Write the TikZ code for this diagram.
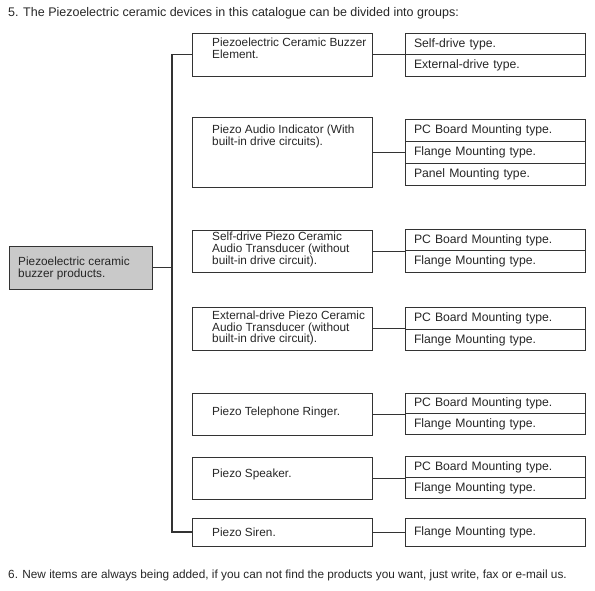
\documentclass[tikz,border=0pt]{standalone}
\usepackage{fontspec}
\setmainfont{Liberation Sans}
\definecolor{linecol}{gray}{0.2}
\definecolor{textcol}{gray}{0.15}
\definecolor{rootfill}{gray}{0.79}
\begin{document}
\begin{tikzpicture}[x=1pt,y=-1pt,
  every node/.style={font=\fontsize{11.8}{11.8}\selectfont, text=textcol},
  box/.style={draw=linecol, line width=0.9pt, anchor=north west, minimum width=180pt, inner sep=0pt, outer sep=0pt},
  subbox/.style={box, font=\fontsize{12.2}{12.2}\selectfont, text width=162pt, inner xsep=9pt, align=left, text height=9.3pt, text depth=2.3pt},
  lbl/.style={anchor=north west, inner sep=0pt, align=left},
  conn/.style={draw=linecol, line width=0.9pt}]
\useasboundingbox (0,0) rectangle (595,590);

% title and footnote
\node[lbl, font=\fontsize{12.5}{12.5}\selectfont] (title) at (8,7) {\rule{0pt}{9pt}5. The Piezoelectric ceramic devices in this catalogue can be divided into groups:};
\node[lbl] (foot) at (8,569) {\rule{0pt}{9pt}6. New items are always being added, if you can not find the products you want, just write, fax or e-mail us.};

% root
\node[box, fill=rootfill, minimum width=143pt, minimum height=43pt] (root) at (9,246) {};
\node[lbl] (rootl) at (18,256) {\rule{0pt}{9pt}Piezoelectric ceramic\\buzzer products.};

% middle boxes
\node[box, minimum height=43pt] (m1) at (192,33) {};
\node[box, minimum height=70pt] (m2) at (192,117) {};
\node[box, minimum height=42pt] (m3) at (192,230) {};
\node[box, minimum height=43pt] (m4) at (192,307) {};
\node[box, minimum height=42pt] (m5) at (192,393) {};
\node[box, minimum height=42pt] (m6) at (192,457) {};
\node[box, minimum height=28pt] (m7) at (192,518) {};

\node[lbl] (m1l) at (212,37) {\rule{0pt}{9pt}Piezoelectric Ceramic Buzzer\\Element.};
\node[lbl] (m2l) at (212,124.3) {\rule{0pt}{9pt}Piezo Audio Indicator (With\\built-in drive circuits).};
\node[lbl] (m3l) at (212,231.7) {\rule{0pt}{9pt}Self-drive Piezo Ceramic\\Audio Transducer (without\\built-in drive circuit).};
\node[lbl] (m4l) at (212,310) {\rule{0pt}{9pt}External-drive Piezo Ceramic\\Audio Transducer (without\\built-in drive circuit).};
\node[lbl] (m5l) at (212,406) {\rule{0pt}{9pt}Piezo Telephone Ringer.};
\node[lbl] (m6l) at (212,468) {\rule{0pt}{9pt}Piezo Speaker.};
\node[lbl] (m7l) at (212,527) {\rule{0pt}{9pt}Piezo Siren.};

% right boxes
\node[subbox, minimum height=21pt] (r1a) at (405,33) {Self-drive type.};
\node[subbox, minimum height=22pt] (r1b) at (405,54) {External-drive type.};

\node[subbox, minimum height=22pt] (r2a) at (405,119) {PC Board Mounting type.};
\node[subbox, minimum height=22pt] (r2b) at (405,141) {Flange Mounting type.};
\node[subbox, minimum height=22pt] (r2c) at (405,163) {Panel Mounting type.};

\node[subbox, minimum height=21pt] (r3a) at (405,229) {PC Board Mounting type.};
\node[subbox, minimum height=22pt] (r3b) at (405,250) {Flange Mounting type.};

\node[subbox, minimum height=22pt] (r4a) at (405,307) {PC Board Mounting type.};
\node[subbox, minimum height=21pt] (r4b) at (405,329) {Flange Mounting type.};

\node[subbox, minimum height=20.5pt] (r5a) at (405,393) {PC Board Mounting type.};
\node[subbox, minimum height=21pt] (r5b) at (405,413.5) {Flange Mounting type.};

\node[subbox, minimum height=21pt] (r6a) at (405,456) {PC Board Mounting type.};
\node[subbox, minimum height=21pt] (r6b) at (405,477) {Flange Mounting type.};

\node[subbox, minimum height=28pt] (r7) at (405,518) {Flange Mounting type.};

% trunk
\coordinate (trunk) at (172,0);
\draw[conn, line width=1.1pt] (m1.west) -- (m1.west -| trunk) -- (m7.west -| trunk) -- (m7.west);
\draw[conn] (root.east) -- (root.east -| trunk);

% middle to right connectors
\draw[conn] (m1.east) -- (m1.east -| r1a.west);
\draw[conn] (m2.east) -- (m2.east -| r2b.west);
\draw[conn] (m3.east) -- (m3.east -| r3a.west);
\draw[conn] (m4.east) -- (m4.east -| r4a.west);
\draw[conn] (m5.east) -- (m5.east -| r5a.west);
\draw[conn] (m6.east) -- (m6.east -| r6a.west);
\draw[conn] (m7.east) -- (m7.east -| r7.west);
\end{tikzpicture}
\end{document}
